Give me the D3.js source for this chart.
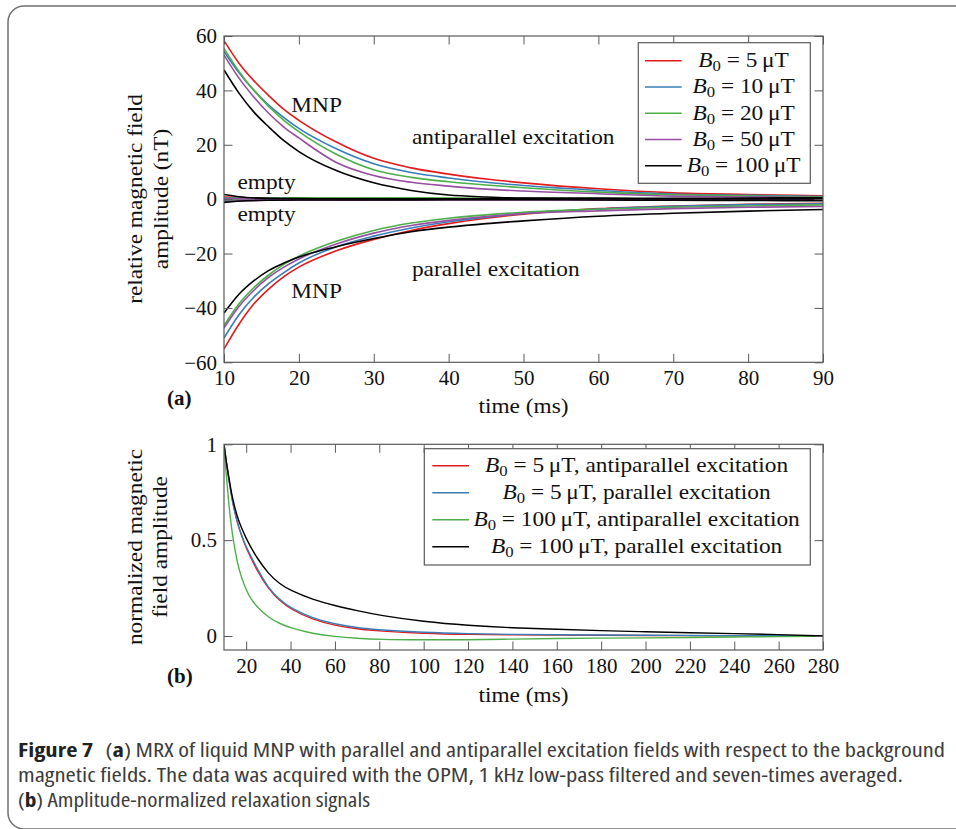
<!DOCTYPE html>
<html>
<head>
<meta charset="utf-8">
<script src="https://cdn.jsdelivr.net/npm/d3@7/dist/d3.min.js"></script>
<style>
  body { margin: 0; background: #fff; }
  svg { display: block; }
  .serif { font-family: 'Liberation Serif', 'Times New Roman', serif; fill: #111; }
  .cap { font-family: 'Open Sans', 'Noto Sans', 'DejaVu Sans', sans-serif; font-stretch: condensed; fill: #3c3c3c; }
</style>
</head>
<body>
<div id="viz"></div>
<script>
// ---- (a) MRX signals, nT ----
var fieldLabels = ['5', '10', '20', '50', '100'];
var fieldColors = ['#e41a1c', '#377eb8', '#4daf4a', '#984ea3', '#000000'];

var timeA = [10, 12, 14, 16, 18, 20, 25, 30, 35, 40, 45, 50, 60, 70, 80, 90];
var antiRed = [58.3, 50, 43.5, 38, 33, 29, 21, 15, 11.5, 9.2, 7.4, 6, 3.8, 2.3, 1.7, 1.2];
var antiBlue = [54.3, 46.5, 40, 34.5, 30, 26, 18.5, 13, 9.8, 7.8, 6.2, 5, 3.2, 1.9, 1.4, 1.0];
var antiGreen = [55.5, 47, 40, 34, 29, 24.8, 16.5, 10.8, 8, 6.4, 5.2, 4.2, 2.6, 1.6, 1.1, 0.8];
var antiPurple = [53, 44.5, 37.5, 31.5, 26.5, 22.5, 13.5, 8.7, 6.2, 4.8, 3.7, 3.0, 2.0, 1.1, 0.8, 0.5];
var antiBlack = [47.5, 39, 32, 26.5, 21.5, 17.5, 10.5, 6, 3.2, 1.5, 0.8, 0.4, 0.3, 0.2, 0.1, 0.1];

var parRed = [-55.1, -46, -38.5, -33, -28.5, -25, -19, -14.8, -11.5, -9, -7, -5.5, -3.5, -2.5, -1.9, -1.5];
var parBlue = [-51.1, -42.5, -36, -31, -27, -23.5, -17.5, -13.6, -10.6, -8.3, -6.6, -5.3, -3.6, -2.6, -2.0, -1.7];
var parGreen = [-46.5, -38.5, -32.5, -27.8, -24, -21, -15.5, -11.5, -8.8, -7, -5.8, -4.8, -3.7, -3.0, -2.5, -2.1];
var parPurple = [-47.4, -39.5, -33.5, -28.7, -25, -22, -16.5, -12.5, -9.7, -7.8, -6.4, -5.3, -4.3, -3.5, -3.0, -2.7];
var parBlack = [-41.9, -35, -30, -26.2, -23.5, -21.3, -17.5, -14.5, -12, -10.3, -9, -8, -6.3, -5.2, -4.4, -3.8];

// empty (no sample) measurements
var timeE = [10, 13, 16, 20, 30, 40, 50, 60, 70, 80, 90];
var emptyAntiRed = [0.8, 0.5, 0.3, 0.2, 0.2, 0.2, 0.1, 0.1, 0.1, 0.1, 0.1];
var emptyAntiBlue = [0.5, 0.3, 0.2, 0.2, 0.1, 0.1, 0.1, 0.1, 0.0, 0.0, 0.0];
var emptyAntiGreen = [0.3, 0.3, 0.4, 0.5, 0.5, 0.4, 0.3, 0.2, 0.2, 0.1, 0.1];
var emptyAntiPurple = [0.2, 0.1, 0.0, 0.0, -0.1, -0.1, -0.1, -0.2, -0.2, -0.2, -0.2];
var emptyAntiBlack = [1.7, 0.6, 0.3, 0.2, 0.1, 0.1, 0.2, 0.3, 0.2, 0.4, 0.5];
var emptyParRed = [-0.6, -0.4, -0.3, -0.2, -0.2, -0.1, -0.1, -0.1, -0.1, -0.1, -0.1];
var emptyParBlue = [-0.5, -0.3, -0.2, -0.2, -0.1, -0.1, -0.1, 0.0, 0.0, 0.0, 0.0];
var emptyParGreen = [-0.3, -0.2, -0.1, 0.0, 0.0, 0.0, 0.0, -0.1, -0.1, -0.1, -0.1];
var emptyParPurple = [-0.9, -0.6, -0.4, -0.3, -0.3, -0.2, -0.2, -0.3, -0.3, -0.3, -0.3];
var emptyParBlack = [-1.2, -0.6, -0.4, -0.3, -0.3, -0.2, -0.2, -0.3, -0.4, -0.5, -0.6];

var xTicksA = [10, 20, 30, 40, 50, 60, 70, 80, 90];
var yTicksA = [-60, -40, -20, 0, 20, 40, 60];

// ---- (b) normalized signals ----
var timeB = [10, 11, 12, 13, 14, 16, 18, 20, 22, 25, 30, 35, 40, 50, 60, 70, 80, 100, 120, 140, 160, 180, 200, 220, 240, 260, 280];
var norm5Anti = [1, 0.91, 0.83, 0.76, 0.69, 0.59, 0.52, 0.46, 0.41, 0.34, 0.245, 0.185, 0.14, 0.085, 0.055, 0.037, 0.026, 0.013, 0.008, 0.006, 0.005, 0.004, 0.003, 0.002, 0.001, 0.001, 0];
var norm5Par = [1, 0.91, 0.83, 0.76, 0.69, 0.59, 0.52, 0.465, 0.42, 0.35, 0.25, 0.19, 0.145, 0.092, 0.062, 0.043, 0.032, 0.018, 0.012, 0.008, 0.006, 0.005, 0.004, 0.003, 0.002, 0.001, 0];
var norm100Anti = [1, 0.84, 0.71, 0.6, 0.51, 0.38, 0.3, 0.24, 0.195, 0.15, 0.097, 0.065, 0.042, 0.012, -0.003, -0.012, -0.018, -0.02, -0.02, -0.016, -0.013, -0.011, -0.01, -0.008, -0.005, -0.003, -0.002];
var norm100Par = [1, 0.91, 0.84, 0.77, 0.71, 0.62, 0.56, 0.51, 0.465, 0.405, 0.325, 0.272, 0.237, 0.19, 0.158, 0.132, 0.108, 0.075, 0.055, 0.042, 0.035, 0.028, 0.022, 0.017, 0.012, 0.008, 0];
var normLabels = ['5', '5', '100', '100'];
var normModes = ['antiparallel', 'parallel', 'antiparallel', 'parallel'];
var normColors = ['#e41a1c', '#377eb8', '#4daf4a', '#000000'];

var xTicksB = [20, 40, 60, 80, 100, 120, 140, 160, 180, 200, 220, 240, 260, 280];
var yTicksB = [0, 0.5, 1];

var captionLines = [
  [['Figure 7', 1], ['\u2002(', 0], ['a', 1], [') MRX of liquid MNP with parallel and antiparallel excitation fields with respect to the background', 0]],
  [['magnetic fields. The data was acquired with the OPM, 1 kHz low-pass filtered and seven-times averaged.', 0]],
  [['(', 0], ['b', 1], [') Amplitude-normalized relaxation signals', 0]]
];

var width = 956, height = 829;
var frameColor = '#5a5a5a';
var fs = 21;
var widenK = 1.11;

var svg = d3.select('#viz').append('svg')
  .attr('width', width)
  .attr('height', height);

// outer rounded box
svg.append('rect')
  .attr('x', 8).attr('y', 6)
  .attr('width', 980).attr('height', 823)
  .attr('rx', 16)
  .attr('fill', 'none')
  .attr('stroke', '#707070')
  .attr('stroke-width', 1.5);

function widen(sel) {
  sel.each(function() {
    var w = this.getComputedTextLength();
    d3.select(this).attr('textLength', w * widenK).attr('lengthAdjust', 'spacingAndGlyphs');
  });
}

function bLabel(sel, val, rest) {
  sel.append('tspan').style('font-style', 'italic').text('B');
  sel.append('tspan').attr('dy', 4).style('font-size', '15px').text('0');
  sel.append('tspan').attr('dy', -4).text(' = ' + val + '\u2009\u03bcT' + rest);
}

function drawFrame(g, x, y, xTicks, yTicks, yFmt) {
  var r = x.range(), b = y.range();
  g.append('g')
    .attr('transform', 'translate(0,' + b[0] + ')')
    .call(d3.axisBottom(x).tickValues(xTicks).tickSize(-8.5).tickPadding(8))
    .call(function(a) { a.select('.domain').remove(); });
  g.append('g')
    .attr('transform', 'translate(0,' + b[1] + ')')
    .call(d3.axisTop(x).tickValues(xTicks).tickSize(-8.5).tickFormat(''))
    .call(function(a) { a.select('.domain').remove(); });
  g.append('g')
    .attr('transform', 'translate(' + r[0] + ',0)')
    .call(d3.axisLeft(y).tickValues(yTicks).tickSize(-8.5).tickPadding(7).tickFormat(yFmt))
    .call(function(a) { a.select('.domain').remove(); });
  g.append('g')
    .attr('transform', 'translate(' + r[1] + ',0)')
    .call(d3.axisRight(y).tickValues(yTicks).tickSize(-8.5).tickFormat(''))
    .call(function(a) { a.select('.domain').remove(); });
  g.selectAll('.tick line').attr('stroke', frameColor).attr('stroke-width', 1);
  g.selectAll('.tick text')
    .attr('class', 'serif')
    .style('font-size', fs + 'px')
    .attr('fill', '#111');
  g.append('rect')
    .attr('x', r[0]).attr('y', b[1])
    .attr('width', r[1] - r[0]).attr('height', b[0] - b[1])
    .attr('fill', 'none')
    .attr('stroke', frameColor)
    .attr('stroke-width', 1.2);
}

// ================= panel (a) =================
var xA = d3.scaleLinear().domain([10, 90]).range([224, 823]);
var yA = d3.scaleLinear().domain([-60, 60]).range([362.3, 36]);

var gA = svg.append('g');
svg.append('clipPath').attr('id', 'clipA').append('rect')
  .attr('x', 224).attr('y', 36).attr('width', 599).attr('height', 326.3);

var lineA = d3.line()
  .x(function(d) { return xA(d[0]); })
  .y(function(d) { return yA(d[1]); })
  .curve(d3.curveMonotoneX);

var mnpAnti = [antiRed, antiBlue, antiGreen, antiPurple, antiBlack];
var mnpPar = [parRed, parBlue, parGreen, parPurple, parBlack];
var emptyAnti = [emptyAntiRed, emptyAntiBlue, emptyAntiGreen, emptyAntiPurple, emptyAntiBlack];
var emptyPar = [emptyParRed, emptyParBlue, emptyParGreen, emptyParPurple, emptyParBlack];

var curvesA = gA.append('g').attr('clip-path', 'url(#clipA)');
fieldLabels.forEach(function(f, i) {
  [[timeA, mnpAnti[i]], [timeA, mnpPar[i]], [timeE, emptyAnti[i]], [timeE, emptyPar[i]]].forEach(function(s) {
    curvesA.append('path')
      .datum(d3.zip(s[0], s[1]))
      .attr('d', lineA)
      .attr('fill', 'none')
      .attr('stroke', fieldColors[i])
      .attr('stroke-width', 1.6);
  });
});

drawFrame(gA, xA, yA, xTicksA, yTicksA, d3.format('d'));

// annotations (data coords)
var notesA = [
  ['MNP', 19.0, 32.2],
  ['antiparallel excitation', 35.1, 20.2],
  ['empty', 11.8, 3.7],
  ['empty', 11.8, -8.0],
  ['parallel excitation', 35.1, -28.4],
  ['MNP', 19.0, -36.2]
];
gA.selectAll('.note').data(notesA).enter().append('text')
  .attr('class', 'serif note')
  .attr('x', function(d) { return xA(d[1]); })
  .attr('y', function(d) { return yA(d[2]); })
  .style('font-size', fs + 'px')
  .text(function(d) { return d[0]; })
  .call(widen);

// legend (a)
var legA = gA.append('g');
legA.append('rect')
  .attr('x', 638.3).attr('y', 42.7).attr('width', 172).attr('height', 140.6)
  .attr('fill', '#fff').attr('stroke', frameColor).attr('stroke-width', 1.2);
fieldLabels.forEach(function(f, i) {
  var ly = 60.7 + i * 26.25;
  legA.append('line')
    .attr('x1', 645).attr('x2', 681.7).attr('y1', ly).attr('y2', ly)
    .attr('stroke', fieldColors[i]).attr('stroke-width', 1.6);
  var t = legA.append('text')
    .attr('class', 'serif')
    .attr('x', 743.6).attr('y', ly + 6.5)
    .attr('text-anchor', 'middle')
    .style('font-size', fs + 'px');
  bLabel(t, f, '');
  t.call(widen);
});

gA.append('text').attr('class', 'serif')
  .attr('x', 523.5).attr('y', 413)
  .attr('text-anchor', 'middle')
  .style('font-size', fs + 'px')
  .text('time (ms)').call(widen);

var yLabA = gA.append('g').attr('transform', 'translate(0,199) rotate(-90)');
yLabA.append('text').attr('class', 'serif')
  .attr('x', 0).attr('y', 142).attr('text-anchor', 'middle')
  .style('font-size', fs + 'px').text('relative magnetic field').call(widen);
yLabA.append('text').attr('class', 'serif')
  .attr('x', 0).attr('y', 168).attr('text-anchor', 'middle')
  .style('font-size', fs + 'px').text('amplitude (nT)').call(widen);

gA.append('text').attr('class', 'serif')
  .attr('x', 167).attr('y', 405)
  .style('font-size', fs + 'px').style('font-weight', 'bold')
  .text('(a)');

// ================= panel (b) =================
var xB = d3.scaleLinear().domain([10, 280]).range([224, 823]);
var yB = d3.scaleLinear().domain([-0.073, 1]).range([650, 444.3]);

var gB = svg.append('g');
svg.append('clipPath').attr('id', 'clipB').append('rect')
  .attr('x', 224).attr('y', 444.3).attr('width', 599).attr('height', 205.7);

var lineB = d3.line()
  .x(function(d) { return xB(d[0]); })
  .y(function(d) { return yB(d[1]); })
  .curve(d3.curveBasis);

var normSeries = [norm5Anti, norm5Par, norm100Anti, norm100Par];
var curvesB = gB.append('g').attr('clip-path', 'url(#clipB)');
normSeries.forEach(function(s, i) {
  curvesB.append('path')
    .datum(d3.zip(timeB, s))
    .attr('d', lineB)
    .attr('fill', 'none')
    .attr('stroke', normColors[i])
    .attr('stroke-width', 1.4);
});

drawFrame(gB, xB, yB, xTicksB, yTicksB, d3.format(''));

var legB = gB.append('g');
legB.append('rect')
  .attr('x', 424.3).attr('y', 448.7).attr('width', 386).attr('height', 116.3)
  .attr('fill', '#fff').attr('stroke', frameColor).attr('stroke-width', 1.2);
normSeries.forEach(function(s, i) {
  var ly = 465.7 + i * 27;
  legB.append('line')
    .attr('x1', 432.3).attr('x2', 469).attr('y1', ly).attr('y2', ly)
    .attr('stroke', normColors[i]).attr('stroke-width', 1.6);
  var t = legB.append('text')
    .attr('class', 'serif')
    .attr('x', 636.6).attr('y', ly + 6.5)
    .attr('text-anchor', 'middle')
    .style('font-size', fs + 'px');
  bLabel(t, normLabels[i], ', ' + normModes[i] + ' excitation');
  t.call(widen);
});

gB.append('text').attr('class', 'serif')
  .attr('x', 523.5).attr('y', 702)
  .attr('text-anchor', 'middle')
  .style('font-size', fs + 'px')
  .text('time (ms)').call(widen);

var yLabB = gB.append('g').attr('transform', 'translate(0,547) rotate(-90)');
yLabB.append('text').attr('class', 'serif')
  .attr('x', 0).attr('y', 142).attr('text-anchor', 'middle')
  .style('font-size', fs + 'px').text('normalized magnetic').call(widen);
yLabB.append('text').attr('class', 'serif')
  .attr('x', 0).attr('y', 167).attr('text-anchor', 'middle')
  .style('font-size', fs + 'px').text('field amplitude').call(widen);

gB.append('text').attr('class', 'serif')
  .attr('x', 167).attr('y', 683)
  .style('font-size', fs + 'px').style('font-weight', 'bold')
  .text('(b)');

// ================= caption =================
var capRight = [945, 903, 370];
captionLines.forEach(function(parts, i) {
  var t = svg.append('text')
    .attr('class', 'cap')
    .attr('x', 18).attr('y', 757 + i * 25)
    .style('font-size', '19px');
  parts.forEach(function(p) {
    t.append('tspan')
      .style('font-weight', p[1] ? 'bold' : 'normal')
      .style('fill', p[1] ? '#222' : null)
      .text(p[0]);
  });
  t.attr('textLength', capRight[i] - 18).attr('lengthAdjust', 'spacingAndGlyphs');
});
</script>
</body>
</html>
